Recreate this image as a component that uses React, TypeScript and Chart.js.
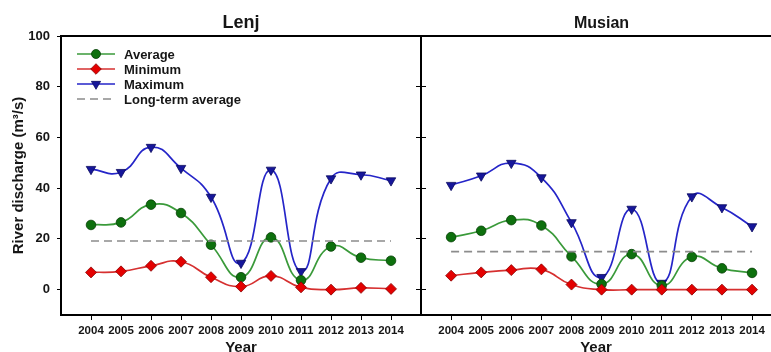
import { useEffect, useRef } from "react";
import { Chart, registerables } from "chart.js";

Chart.register(...registerables);

// ---------------- data ----------------
const years = [2004, 2005, 2006, 2007, 2008, 2009, 2010, 2011, 2012, 2013, 2014];
const yTicks = [0, 20, 40, 60, 80, 100];

const lenjAverage = [25.5, 26.5, 33.5, 30.2, 17.7, 4.9, 20.6, 3.7, 17.0, 12.6, 11.4];
const lenjMinimum = [6.8, 7.2, 9.4, 11.0, 4.9, 1.2, 5.4, 0.9, 0.0, 0.7, 0.3];
const lenjMaximum = [47.5, 46.3, 56.2, 47.9, 36.5, 10.5, 47.2, 7.2, 43.8, 45.3, 43.0];
const lenjLongTerm = 19.2;

const musianAverage = [20.7, 23.2, 27.4, 25.3, 13.1, 2.2, 14.0, 1.6, 12.9, 8.4, 6.6];
const musianMinimum = [5.5, 6.8, 7.7, 8.0, 2.0, 0.0, 0.0, 0.0, 0.0, 0.0, 0.0];
const musianMaximum = [41.2, 44.9, 49.9, 44.2, 26.5, 4.9, 31.8, 2.6, 36.7, 32.4, 24.9];
const musianLongTerm = 15.0;

const legendLabels = ["Average", "Minimum", "Maximum", "Long-term average"];

// ---------------- styles ----------------
const FONT = "'Liberation Sans', Arial, Helvetica, sans-serif";
const TEXT = "#161616";
const GREEN_LINE = "#3a9a3a";
const GREEN_FILL = "#0d700d";
const GREEN_EDGE = "#064006";
const RED_LINE = "#d63030";
const RED_FILL = "#e40000";
const RED_EDGE = "#8a0000";
const BLUE_LINE = "#2525c8";
const BLUE_FILL = "#16169a";
const BLUE_EDGE = "#0a0a60";
const GRAY = "#8c8c8c";
const TENSION = 0.5;

const pts = (vals: number[]) => years.map((x, i) => ({ x, y: vals[i] }));
const flat = (v: number) => [
  { x: years[0], y: v },
  { x: years[years.length - 1], y: v },
];

function buildDatasets(avg: number[], min: number[], max: number[], lt: number) {
  return [
    {
      label: legendLabels[3],
      data: flat(lt),
      borderColor: GRAY,
      borderWidth: 1.6,
      borderDash: [8, 5],
      pointRadius: 0,
      tension: 0,
    },
    {
      label: legendLabels[1],
      data: pts(min),
      borderColor: RED_LINE,
      borderWidth: 1.7,
      pointStyle: "rectRot",
      pointRadius: 5.5,
      pointBackgroundColor: RED_FILL,
      pointBorderColor: RED_EDGE,
      pointBorderWidth: 0.8,
      tension: TENSION,
    },
    {
      label: legendLabels[0],
      data: pts(avg),
      borderColor: GREEN_LINE,
      borderWidth: 1.7,
      pointStyle: "circle",
      pointRadius: 4.8,
      pointBackgroundColor: GREEN_FILL,
      pointBorderColor: GREEN_EDGE,
      pointBorderWidth: 0.8,
      tension: TENSION,
    },
    {
      label: legendLabels[2],
      data: pts(max),
      borderColor: BLUE_LINE,
      borderWidth: 1.7,
      pointStyle: "triangle",
      pointRotation: 180,
      pointRadius: 5.5,
      pointBackgroundColor: BLUE_FILL,
      pointBorderColor: BLUE_EDGE,
      pointBorderWidth: 0.8,
      tension: TENSION,
    },
  ];
}

function drawMarker(ctx: CanvasRenderingContext2D, kind: string, x: number, y: number) {
  ctx.save();
  ctx.lineWidth = 0.8;
  ctx.beginPath();
  if (kind === "circle") {
    ctx.fillStyle = GREEN_FILL;
    ctx.strokeStyle = GREEN_EDGE;
    ctx.arc(x, y, 4.5, 0, Math.PI * 2);
  } else if (kind === "diamond") {
    ctx.fillStyle = RED_FILL;
    ctx.strokeStyle = RED_EDGE;
    const r = 5.3;
    ctx.moveTo(x, y - r);
    ctx.lineTo(x + r, y);
    ctx.lineTo(x, y + r);
    ctx.lineTo(x - r, y);
    ctx.closePath();
  } else {
    ctx.fillStyle = BLUE_FILL;
    ctx.strokeStyle = BLUE_EDGE;
    const r = 5.3;
    ctx.moveTo(x, y + r);
    ctx.lineTo(x + r * Math.sin((2 * Math.PI) / 3), y - r / 2);
    ctx.lineTo(x - r * Math.sin((2 * Math.PI) / 3), y - r / 2);
    ctx.closePath();
  }
  ctx.fill();
  ctx.stroke();
  ctx.restore();
}

function decorPlugin(title: string, titleSize: number, withLegend: boolean) {
  return {
    id: "panelDecor",
    afterDraw(chart: any) {
      const { ctx, chartArea } = chart;
      const { left, right, top } = chartArea;
      ctx.save();
      // top frame line
      ctx.strokeStyle = "#000";
      ctx.lineWidth = 2;
      ctx.beginPath();
      ctx.moveTo(left - 1, top);
      ctx.lineTo(right + 1, top);
      ctx.stroke();
      // panel title, centred on the middle year of the panel
      const cx = chart.scales.x.getPixelForValue((years[0] + years[years.length - 1]) / 2);
      ctx.fillStyle = TEXT;
      ctx.font = `bold ${titleSize}px ${FONT}`;
      ctx.textAlign = "center";
      ctx.textBaseline = "alphabetic";
      ctx.fillText(title, cx, 28);

      if (withLegend) {
        const rows = [
          { y: 54, color: GREEN_LINE, marker: "circle", label: legendLabels[0] },
          { y: 69, color: RED_LINE, marker: "diamond", label: legendLabels[1] },
          { y: 84, color: BLUE_LINE, marker: "triangle", label: legendLabels[2] },
          { y: 99, color: GRAY, marker: "", label: legendLabels[3] },
        ];
        const x0 = left + 16;
        const x1 = left + 54;
        rows.forEach((r) => {
          ctx.save();
          ctx.strokeStyle = r.color;
          ctx.lineWidth = r.marker ? 1.7 : 1.6;
          if (!r.marker) ctx.setLineDash([8, 5]);
          ctx.beginPath();
          ctx.moveTo(x0, r.y);
          ctx.lineTo(x1, r.y);
          ctx.stroke();
          ctx.restore();
          if (r.marker) drawMarker(ctx, r.marker, (x0 + x1) / 2, r.y);
          ctx.fillStyle = TEXT;
          ctx.font = `bold 13px ${FONT}`;
          ctx.textAlign = "left";
          ctx.textBaseline = "alphabetic";
          ctx.fillText(r.label, left + 63, r.y + 4.7);
        });
      }
      ctx.restore();
    },
  };
}

function xScale(max: number) {
  return {
    type: "linear",
    min: 2003,
    max,
    afterBuildTicks: (axis: any) => {
      axis.ticks = years.map((v) => ({ value: v }));
    },
    afterFit: (axis: any) => {
      axis.height = 37;
      axis.paddingLeft = 0;
      axis.paddingRight = 0;
    },
    ticks: {
      autoSkip: false,
      maxRotation: 0,
      padding: 4,
      color: TEXT,
      font: { family: FONT, size: 11.5, weight: "bold" },
      callback: (v: any) => String(v),
    },
    grid: {
      display: true,
      drawOnChartArea: false,
      drawTicks: true,
      tickLength: 5,
      color: "#000",
      lineWidth: 1,
    },
    border: { display: true, color: "#000", width: 2 },
    title: {
      display: true,
      text: "Year",
      color: TEXT,
      font: { family: FONT, size: 15, weight: "bold" },
      padding: { top: 0, bottom: -5 },
    },
  };
}

function yBase() {
  return {
    type: "linear",
    min: -10,
    max: 100,
    afterBuildTicks: (axis: any) => {
      axis.ticks = yTicks.map((v) => ({ value: v }));
    },
  };
}

function makeLeft(canvas: HTMLCanvasElement) {
  return new Chart(canvas, {
    type: "line",
    data: { datasets: buildDatasets(lenjAverage, lenjMinimum, lenjMaximum, lenjLongTerm) as any },
    options: {
      responsive: false,
      animation: false,
      devicePixelRatio: 1,
      events: [],
      layout: { autoPadding: false, padding: { top: 36, left: 0, right: 0, bottom: 0 } },
      plugins: { legend: { display: false }, title: { display: false }, tooltip: { enabled: false } },
      scales: {
        x: xScale(2015) as any,
        y: {
          ...yBase(),
          position: "left",
          afterFit: (axis: any) => {
            axis.width = 61;
          },
          ticks: {
            padding: 7,
            color: TEXT,
            font: { family: FONT, size: 13, weight: "bold" },
            callback: (v: any) => String(v),
          },
          grid: { display: true, drawOnChartArea: false, tickLength: 4, color: "#000", lineWidth: 1 },
          border: { display: true, color: "#000", width: 2 },
          title: {
            display: true,
            text: "River discharge (m³/s)",
            color: TEXT,
            font: { family: FONT, size: 15, weight: "bold" },
            padding: { top: 10, bottom: 0 },
          },
        } as any,
        y2: {
          ...yBase(),
          position: "right",
          afterFit: (axis: any) => {
            axis.width = 9;
          },
          ticks: { display: false },
          grid: { display: true, drawOnChartArea: false, tickLength: 5, color: "#000", lineWidth: 1 },
          border: { display: false },
        } as any,
      },
    },
    plugins: [decorPlugin("Lenj", 18, true)],
  });
}

function makeRight(canvas: HTMLCanvasElement) {
  return new Chart(canvas, {
    type: "line",
    data: { datasets: buildDatasets(musianAverage, musianMinimum, musianMaximum, musianLongTerm) as any },
    options: {
      responsive: false,
      animation: false,
      devicePixelRatio: 1,
      events: [],
      layout: { autoPadding: false, padding: { top: 36, left: 0, right: 0, bottom: 0 } },
      plugins: { legend: { display: false }, title: { display: false }, tooltip: { enabled: false } },
      scales: {
        x: xScale(2014.63) as any,
        y: {
          ...yBase(),
          position: "left",
          afterFit: (axis: any) => {
            axis.width = 9;
          },
          ticks: { display: false },
          grid: { display: true, drawOnChartArea: false, tickLength: 5, color: "#000", lineWidth: 1 },
          border: { display: true, color: "#000", width: 2 },
        } as any,
      },
    },
    plugins: [decorPlugin("Musian", 16, false)],
  });
}

export default function App() {
  const leftRef = useRef<HTMLCanvasElement | null>(null);
  const rightRef = useRef<HTMLCanvasElement | null>(null);

  useEffect(() => {
    if (!leftRef.current || !rightRef.current) return;
    const a = makeLeft(leftRef.current);
    const b = makeRight(rightRef.current);
    return () => {
      a.destroy();
      b.destroy();
    };
  }, []);

  return (
    <div
      style={{
        position: "absolute",
        left: 0,
        top: 0,
        width: 771,
        height: 352,
        overflow: "hidden",
        background: "#fff",
      }}
    >
      <canvas
        ref={leftRef}
        width={430}
        height={352}
        style={{ position: "absolute", left: 0, top: 0, width: 430, height: 352 }}
      />
      <canvas
        ref={rightRef}
        width={359}
        height={352}
        style={{ position: "absolute", left: 412, top: 0, width: 359, height: 352 }}
      />
    </div>
  );
}
